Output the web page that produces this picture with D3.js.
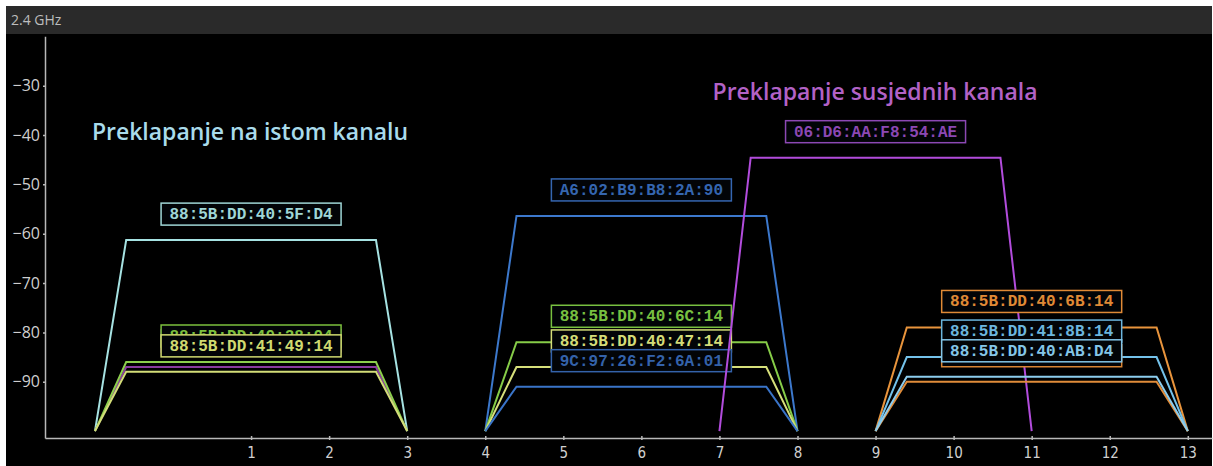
<!DOCTYPE html>
<html>
<head>
<meta charset="utf-8">
<script src="https://cdn.jsdelivr.net/npm/d3@7"></script>
<style>
	html, body { margin: 0; padding: 0; background: #fff; }
	#chartDiv { width: 1213px; height: 466px; }
</style>
</head>
<body>
<div id="chartDiv"></div>
<script>
;(function() {

	// networks, in drawing order
	var networkNames = [
		"88:5B:DD:40:5F:D4", "88:5B:DD:41:0A:24", "88:5B:DD:40:28:04", "88:5B:DD:41:49:14",
		"A6:02:B9:B8:2A:90", "88:5B:DD:40:6C:14", "88:5B:DD:40:47:14", "9C:97:26:F2:6A:01",
		"06:D6:AA:F8:54:AE",
		"88:5B:DD:40:6B:14", "88:5B:DD:41:8B:14", "88:5B:DD:40:C1:34", "88:5B:DD:40:AB:D4"
	];
	var networkChannels = [1, 1, 1, 1, 6, 6, 6, 6, 9, 11, 11, 11, 11];
	var networkSignals = [-61.3, -87, -86, -88, -56.4, -82, -87, -91, -44.6, -79, -85, -90, -89];
	// labels that sit fully behind other labels in the picture
	var hiddenLabels = ["88:5B:DD:41:0A:24", "88:5B:DD:40:C1:34"];

	var xTicks = [1, 2, 3, 4, 5, 6, 7, 8, 9, 10, 11, 12, 13];
	var yTicks = [-30, -40, -50, -60, -70, -80, -90];

	var notes = ["Preklapanje na istom kanalu", "Preklapanje susjednih kanala"];

	const COLORS = [
		"#a6e2e2", "#8a3c9e", "#8ccf4c", "#d3dd78",
		"#3c78cc", "#86cc48", "#d6df7a", "#3a74c8",
		"#b24cdc",
		"#e8943c", "#74c2ea", "#e08c3a", "#8ccdee"
	];
	const LABEL_COLORS = [
		"#9fd6d6", "#7e3a92", "#7cc03e", "#d0da70",
		"#3566b0", "#78c040", "#d4dc78", "#3462aa",
		"#8c48b4",
		"#e08a36", "#6cb6de", "#d88434", "#84c6e8"
	];

	var width = 1213;
	var height = 466;
	var panel = { left: 6, top: 6, right: 1212 };
	var titleHeight = 28;
	var halfBottom = 2;   // channels
	var halfTop = 1.6;
	var floorDb = -100;

	var chart;

	init();

	function init() {
		chart = d3.select("#chartDiv").append("svg")
			.attr("width", width)
			.attr("height", height);

		chart.append("rect")
			.attr("x", panel.left).attr("y", panel.top)
			.attr("width", panel.right - panel.left).attr("height", height - panel.top)
			.attr("fill", "#000");

		chart.append("rect")
			.attr("x", panel.left).attr("y", panel.top)
			.attr("width", panel.right - panel.left).attr("height", titleHeight)
			.attr("fill", "#2a2a2a");

		chart.append("text")
			.attr("x", 11).attr("y", 25)
			.style("font-family", "'Open Sans', 'Noto Sans', sans-serif")
			.style("font-size", "14px")
			.attr("fill", "#bdbdbd")
			.text("2.4 GHz");

		createAxes();
		drawNetworks();
		drawNotes();
	}

	function createAxes() {
		chart.xScale = d3.scaleLinear()
			.domain([-1.64, 13.31])
			.range([45, panel.right]);

		chart.yScale = d3.scaleLinear()
			.domain([-101.4, -20])
			.range([438, 36.3]);

		// x axis
		chart.xAxis = d3.axisBottom(chart.xScale)
			.tickValues(xTicks)
			.tickSize(3)
			.tickSizeOuter(0)
			.tickPadding(6);

		chart.xAxisContainer = chart.append("g")
			.attr("class", "x axis")
			.attr("transform", "translate(0," + 438 + ")")
			.call(chart.xAxis);

		chart.xAxisContainer.selectAll(".tick line")
			.attr("y1", -2).attr("y2", 2);

		chart.xAxisContainer.selectAll("text")
			.style("font-family", "'DejaVu Sans Condensed', 'DejaVu Sans', sans-serif")
			.style("font-stretch", "condensed")
			.style("font-size", "15px")
			.attr("fill", "#d0d0d0");

		// y axis
		chart.yAxis = d3.axisLeft(chart.yScale)
			.tickValues(yTicks)
			.tickSize(2)
			.tickSizeOuter(0)
			.tickPadding(3);

		chart.yAxisContainer = chart.append("g")
			.attr("class", "y axis")
			.attr("transform", "translate(45,0)")
			.call(chart.yAxis);

		chart.yAxisContainer.selectAll("text")
			.style("font-family", "'Open Sans', 'Noto Sans', sans-serif")
			.style("font-size", "16px")
			.attr("fill", "#cfcfcf");

		chart.selectAll(".axis path, .axis line")
			.attr("stroke", "#b8b8b8")
			.attr("stroke-width", 1.5);
	}

	function trapezoid(ch, db) {
		return [
			[ch - halfBottom, floorDb],
			[ch - halfTop, db],
			[ch + halfTop, db],
			[ch + halfBottom, floorDb]
		];
	}

	function drawNetworks() {
		var line = d3.line()
			.x(d => chart.xScale(d[0]))
			.y(d => chart.yScale(d[1]));

		var boxW = 180, boxH = 22, gap = 15;

		networkNames.forEach(function(name, i) {
			var ch = networkChannels[i];
			var db = networkSignals[i];
			var g = chart.append("g").attr("class", "network");

			g.append("path")
				.attr("d", line(trapezoid(ch, db)))
				.attr("fill", "none")
				.attr("stroke", COLORS[i])
				.attr("stroke-width", 2)
				.attr("stroke-linejoin", "miter");

			var cx = chart.xScale(ch);
			var top = chart.yScale(db) - gap - boxH;

			g.append("rect")
				.attr("x", cx - boxW / 2)
				.attr("y", top)
				.attr("width", boxW)
				.attr("height", boxH)
				.attr("fill", "#020407")
				.attr("stroke", LABEL_COLORS[i])
				.attr("stroke-width", 1.5);

			if (hiddenLabels.indexOf(name) >= 0) return;

			g.append("text")
				.attr("x", cx)
				.attr("y", top + 16)
				.attr("text-anchor", "middle")
				.style("font-family", "'Liberation Mono', 'DejaVu Sans Mono', monospace")
				.style("font-weight", "bold")
				.style("font-size", "16px")
				.attr("fill", LABEL_COLORS[i])
				.text(name);
		});
	}

	function drawNotes() {
		var noteX = [250, 875];
		var noteY = [140, 100];
		var noteColors = ["#a9dbeb", "#b262c6"];

		notes.forEach(function(t, i) {
			chart.append("text")
				.attr("x", noteX[i])
				.attr("y", noteY[i])
				.attr("text-anchor", "middle")
				.style("font-family", "'Open Sans', 'Noto Sans', sans-serif")
				.style("font-weight", "600")
				.style("font-size", "23px")
				.attr("fill", noteColors[i])
				.text(t);
		});
	}
})();
</script>
</body>
</html>
